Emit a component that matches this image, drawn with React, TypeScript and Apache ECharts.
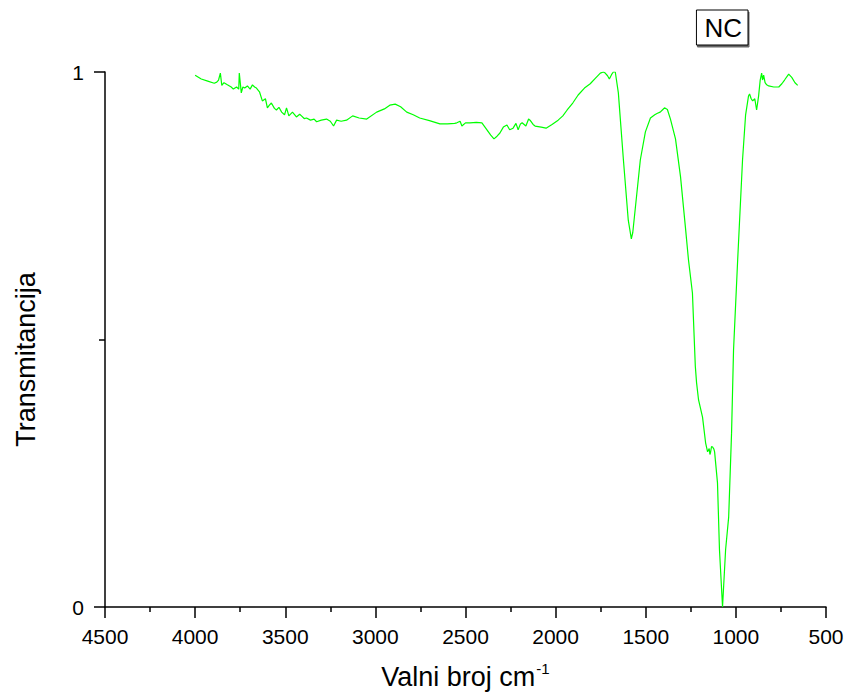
import React, { useEffect, useRef } from "react";
import * as echarts from "echarts";

const seriesName = "NC";
const xTicks = [4500, 4000, 3500, 3000, 2500, 2000, 1500, 1000, 500];
const yTicks = [0, 1];

const wavenumbers = [
  4000, 3966, 3930, 3894, 3880, 3870, 3860, 3852, 3840, 3821, 3800, 3788, 3770, 3758, 3755, 3748, 3744,
  3735, 3725, 3710, 3695, 3682, 3670, 3660, 3643, 3627, 3610, 3599, 3588, 3577, 3560, 3549, 3535,
  3520, 3504, 3493, 3480, 3460, 3438, 3420, 3410, 3395, 3382, 3360, 3340, 3326, 3300, 3271, 3250,
  3232, 3215, 3190, 3160, 3126, 3090, 3048, 2993, 2950, 2920, 2890, 2860, 2826, 2790, 2754, 2700,
  2642, 2600, 2560, 2548, 2530, 2520, 2500, 2475, 2440, 2409, 2381, 2360, 2342, 2325, 2309, 2290,
  2270, 2255, 2236, 2220, 2208, 2195, 2186, 2165, 2150, 2142, 2125, 2114, 2080, 2053, 2020, 1986,
  1960, 1936, 1905, 1875, 1840, 1808, 1780, 1752, 1735, 1725, 1712, 1702, 1690, 1680, 1669, 1652,
  1624, 1597, 1580, 1572, 1563, 1530, 1502, 1474, 1450, 1435, 1420, 1405, 1396, 1380, 1363, 1335,
  1307, 1280, 1263, 1241, 1225, 1218, 1207, 1185, 1168, 1157, 1148, 1144, 1141, 1135, 1129, 1122,
  1118, 1102, 1091, 1074, 1057, 1040, 1024, 1013, 990, 963, 946, 930, 924, 915, 907, 895, 885, 874,
  865, 857, 852, 846, 838, 829, 818, 790, 762, 745, 730, 707, 690, 672, 657,
];

const transmittance = [
  0.994, 0.987, 0.983, 0.979, 0.981, 0.985, 0.998, 0.975, 0.980, 0.976, 0.972, 0.968, 0.972, 0.968, 0.998, 0.975, 0.961,
  0.972, 0.970, 0.974, 0.968, 0.976, 0.972, 0.970, 0.963, 0.946, 0.950, 0.933, 0.938, 0.942, 0.932, 0.929, 0.934,
  0.925, 0.920, 0.933, 0.918, 0.925, 0.916, 0.921, 0.918, 0.913, 0.914, 0.910, 0.912, 0.907, 0.910, 0.912, 0.908,
  0.899, 0.910, 0.908, 0.910, 0.918, 0.914, 0.912, 0.925, 0.931, 0.938, 0.940, 0.935, 0.925, 0.920, 0.914, 0.909,
  0.903, 0.903, 0.904, 0.905, 0.908, 0.899, 0.905, 0.905, 0.906, 0.905, 0.892, 0.882, 0.875, 0.880, 0.886, 0.897,
  0.901, 0.892, 0.895, 0.904, 0.892, 0.903, 0.905, 0.899, 0.912, 0.910, 0.902, 0.899, 0.897, 0.895, 0.902, 0.910,
  0.918, 0.929, 0.942, 0.957, 0.970, 0.978, 0.988, 0.998, 1.000, 0.998, 0.993, 0.987, 0.995, 1.000, 1.000, 0.961,
  0.836, 0.723, 0.688, 0.700, 0.729, 0.836, 0.888, 0.914, 0.920, 0.923, 0.925, 0.930, 0.933, 0.930, 0.912, 0.875,
  0.804, 0.710, 0.649, 0.587, 0.450, 0.419, 0.387, 0.355, 0.307, 0.290, 0.296, 0.285, 0.288, 0.300, 0.299, 0.295,
  0.290, 0.232, 0.107, 0.0, 0.107, 0.168, 0.325, 0.480, 0.649, 0.836, 0.920, 0.955, 0.959, 0.950, 0.946, 0.950, 0.929, 0.955,
  0.985, 0.998, 0.985, 0.994, 0.980, 0.976, 0.974, 0.972, 0.972, 0.978, 0.985, 0.996, 0.990, 0.980, 0.975,
];

const xAxisTitle = "Valni broj cm";
const xAxisTitleSup = "-1";
const yAxisTitle = "Transmitancija";

const FONT = "'Liberation Sans', Arial, sans-serif";

export default function App() {
  const ref = useRef<HTMLDivElement>(null);
  useEffect(() => {
    if (!ref.current) return;
    const chart = echarts.init(ref.current, undefined, { renderer: "svg" });
    const data = wavenumbers.map((w, i) => [w, transmittance[i]]);
    chart.setOption({
      animation: false,
      backgroundColor: "#ffffff",
      textStyle: { fontFamily: FONT },
      grid: { left: 105, right: 23, top: 72, bottom: 93, containLabel: false },
      legend: {
        data: [seriesName],
        right: 101,
        top: 10,
        icon: "none",
        itemWidth: 0,
        itemHeight: 0,
        itemGap: 0,
        padding: [5, 6, 4, 3],
        borderColor: "#000",
        borderWidth: 1,
        backgroundColor: "#fff",
        shadowColor: "rgba(0,0,0,0.6)",
        shadowOffsetX: 1,
        shadowOffsetY: 2,
        shadowBlur: 0,
        textStyle: { fontSize: 26, color: "#000", fontFamily: FONT },
      },
      xAxis: {
        type: "value",
        inverse: true,
        min: 500,
        max: 4500,
        interval: 500,
        name: `{a|${xAxisTitle}}{s|${xAxisTitleSup}}`,
        nameLocation: "middle",
        nameGap: 54,
        nameTextStyle: {
          color: "#000",
          rich: {
            a: { fontSize: 27, color: "#000", fontFamily: FONT },
            s: { fontSize: 15, color: "#000", fontFamily: FONT, padding: [0, 0, 16, 1] },
          },
        },
        axisLine: { show: true, onZero: false, lineStyle: { color: "#000", width: 1.5 } },
        axisTick: { show: true, inside: false, length: 11, lineStyle: { color: "#000", width: 1.5 } },
        minorTick: { show: true, splitNumber: 2, length: 5, lineStyle: { color: "#000", width: 1.5 } },
        splitLine: { show: false },
        axisLabel: {
          color: "#000",
          fontSize: 21,
          margin: 19,
          fontFamily: FONT,
          formatter: (v: number) => (xTicks.includes(v) ? String(v) : ""),
        },
      },
      yAxis: {
        type: "value",
        min: 0,
        max: 1,
        interval: 1,
        name: yAxisTitle,
        nameLocation: "middle",
        nameGap: 66,
        nameTextStyle: { fontSize: 27, color: "#000", fontFamily: FONT, padding: [0, 40, 0, 0] },
        axisLine: { show: true, onZero: false, lineStyle: { color: "#000", width: 1.5 } },
        axisTick: { show: true, inside: false, length: 11, lineStyle: { color: "#000", width: 1.5 } },
        minorTick: { show: true, splitNumber: 2, length: 6, lineStyle: { color: "#000", width: 1.5 } },
        splitLine: { show: false },
        axisLabel: {
          color: "#000",
          fontSize: 21,
          margin: 21,
          fontFamily: FONT,
          formatter: (v: number) => (yTicks.includes(v) ? String(v) : ""),
        },
      },
      series: [
        {
          name: seriesName,
          type: "line",
          data,
          showSymbol: false,
          symbol: "none",
          lineStyle: { color: "#00ff00", width: 1.2 },
          itemStyle: { color: "#00ff00" },
        },
      ],
    });
    return () => chart.dispose();
  }, []);
  return <div ref={ref} style={{ width: 849, height: 700, position: "absolute", left: 0, top: 0 }} />;
}
